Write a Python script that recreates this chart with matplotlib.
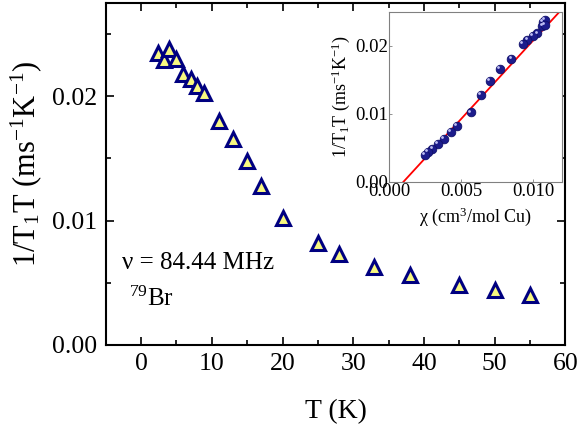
import matplotlib
matplotlib.use("Agg")
import matplotlib.pyplot as plt
import matplotlib.transforms as mtransforms

plt.rcParams['font.family'] = ['Liberation Serif', 'DejaVu Serif']
plt.rcParams['mathtext.fontset'] = 'custom'
plt.rcParams['mathtext.rm'] = 'Liberation Serif'
plt.rcParams['mathtext.it'] = 'Liberation Serif:italic'

# 1/T1T versus temperature, 79Br at 84.44 MHz
temps = [2.4, 3.2, 4.0, 5.0, 5.9, 7.0, 7.9, 8.9, 11, 13, 15, 17,
         20, 25, 28, 33, 38, 45, 50, 55]
rates = [0.0235, 0.0229, 0.0238, 0.0230, 0.0218, 0.0214, 0.0208, 0.0203,
         0.0180, 0.0166, 0.0148, 0.0128, 0.0102, 0.0082, 0.0073, 0.0063,
         0.0056, 0.0048, 0.0044, 0.0040]
# susceptibility at the same temperatures (inset)
chi = [0.0107, 0.01065, 0.0108, 0.0108, 0.0103, 0.0100, 0.0096, 0.0093,
       0.0085, 0.0077, 0.0070, 0.0064, 0.00565, 0.0047, 0.0043, 0.0038,
       0.0034, 0.0030, 0.0027, 0.0025]
# linear fit in the inset
fit_slope = 2.30
fit_x0 = 0.00098
fit_xmax = 0.012

fig = plt.figure(figsize=(5.81, 4.30), dpi=100)
ax = fig.add_axes([0.182, 0.198, 0.791, 0.795])

ax.plot(temps, rates, linestyle='none', marker='^', ms=9.5, mew=2.2,
        mfc='#f8f880', mec='#000080')

ax.set_xlim(-5, 60)
ax.set_ylim(0, 0.0275)
ax.set_xticks([0, 10, 20, 30, 40, 50, 60])
ax.set_xticks([-5, 5, 15, 25, 35, 45, 55], minor=True)
ax.set_yticks([0.00, 0.01, 0.02])
ax.set_yticks([0.005, 0.015, 0.025], minor=True)
ax.set_yticklabels(['0.00', '0.01', '0.02'])
ax.tick_params(which='both', direction='in', top=True, right=True,
               labelsize=18.5, width=1.2, pad=6)
ax.tick_params(which='major', length=6)
ax.tick_params(which='minor', length=3.5)
for s in ax.spines.values():
    s.set_linewidth(1.5)

ax.set_xlabel("T (K)", fontsize=20, labelpad=17)
ax.set_ylabel("1/T$_1$T (ms$^{-1}$K$^{-1}$)", fontsize=22, labelpad=6)
ax.yaxis.set_label_coords(-0.135, 0.53)

ax.text(0.036, 0.24, "ν = 84.44 MHz", transform=ax.transAxes, fontsize=18,
        va='center', ha='left')
ax.text(0.05, 0.135, "$^{79}$Br", transform=ax.transAxes, fontsize=18,
        va='center', ha='left')

# inset
ins = fig.add_axes([0.670, 0.577, 0.297, 0.396])
xs = [fit_x0, fit_xmax]
ys = [fit_slope * (x - fit_x0) for x in xs]
ins.plot(xs, ys, color='red', lw=1.3, zorder=2)
ins.plot(chi, rates, linestyle='none', marker='o', ms=6.2,
         mfc='#1c1c8c', mec='#10106a', mew=0.6, zorder=3)
hl = ins.transData + mtransforms.ScaledTranslation(-1.3/72, 1.3/72,
                                                   fig.dpi_scale_trans)
ins.plot(chi, rates, linestyle='none', marker='o', ms=2.0,
         mfc='#c0c0f4', mec='none', transform=hl, zorder=4)

ins.set_xlim(0, 0.012)
ins.set_ylim(0, 0.025)
ins.set_xticks([0.000, 0.005, 0.010])
ins.set_xticklabels(['0.000', '0.005', '0.010'])
ins.set_yticks([0.00, 0.01, 0.02])
ins.set_yticklabels(['0.00', '0.01', '0.02'])
ins.tick_params(direction='in', length=2, width=0.6, color='gray',
                labelsize=13.5, pad=1)
for s in ins.spines.values():
    s.set_color('gray')
    s.set_linewidth(0.8)
ins.set_xlabel("χ (cm$^3$/mol Cu)", fontsize=13, labelpad=4)
ins.set_ylabel("1/T$_1$T (ms$^{-1}$K$^{-1}$)", fontsize=13, labelpad=2)

fig.savefig("out.png", dpi=100)
